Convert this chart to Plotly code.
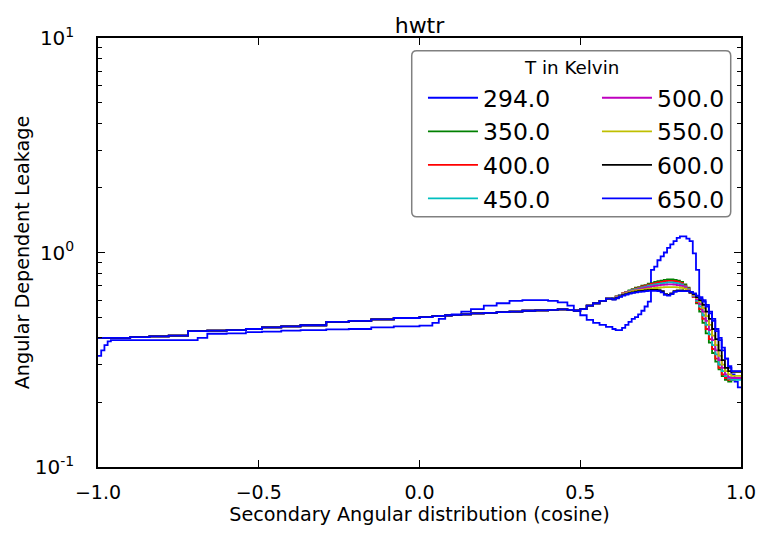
import plotly.graph_objects as go

# ---------------- data ----------------
# left edges of the histogram bins (cosine); last bin closes at X_END
BIN_EDGES = [-1.00, -0.99, -0.98, -0.97, -0.96, -0.90, -0.84, -0.78, -0.72, -0.69,
             -0.66, -0.60, -0.54, -0.49, -0.43, -0.37, -0.29, -0.22, -0.15, -0.08,
             0.00, 0.04, 0.06, 0.08, 0.10, 0.13, 0.16, 0.20, 0.24, 0.28,
             0.32, 0.36, 0.40, 0.43, 0.46, 0.48, 0.50, 0.52, 0.54, 0.56,
             0.58,
             0.60, 0.61, 0.62, 0.63, 0.64, 0.65, 0.66, 0.67, 0.68, 0.69,
             0.70, 0.71, 0.72, 0.73, 0.74, 0.75, 0.76, 0.77, 0.78, 0.79,
             0.80, 0.81, 0.82, 0.83, 0.84, 0.85, 0.86, 0.87, 0.88, 0.89,
             0.90, 0.91, 0.92, 0.93, 0.94, 0.95, 0.96, 0.97, 0.98, 0.99]
X_END = 1.0

TEMPS = ["294.0", "350.0", "400.0", "450.0", "500.0", "550.0", "600.0", "650.0"]
COLORS = ["#0000ff", "#008000", "#ff0000", "#00bfbf", "#bf00bf", "#bfbf00", "#000000", "#0000ff"]
LEGEND_COLUMN = ["legend", "legend", "legend", "legend",
                 "legend2", "legend2", "legend2", "legend2"]

# 294 K (different evaluation) - full curve
T294 = [0.33, 0.35, 0.37, 0.385, 0.39, 0.39, 0.39, 0.39, 0.39, 0.40,
        0.418, 0.42, 0.425, 0.428, 0.432, 0.435, 0.438, 0.44, 0.448, 0.452,
        0.456, 0.47, 0.49, 0.505, 0.515, 0.53, 0.545, 0.565, 0.58, 0.595,
        0.60, 0.60, 0.595, 0.585, 0.565, 0.54, 0.51, 0.485, 0.47, 0.46,
        0.45,
        0.44, 0.435, 0.435, 0.445, 0.46, 0.475, 0.49, 0.50, 0.515, 0.535,
        0.56, 0.59, 0.83, 0.86, 0.92, 0.96, 1.00, 1.05, 1.09, 1.13,
        1.17, 1.19, 1.19, 1.16, 1.13, 0.99, 0.83, 0.62, 0.60, 0.57,
        0.53, 0.49, 0.44, 0.40, 0.36, 0.32, 0.29, 0.27, 0.25, 0.235]

# common part (cosine -1 .. 0.6) of the 350-650 K curves
HOT_LEFT = [0.40, 0.40, 0.40, 0.40, 0.40, 0.403, 0.406, 0.41, 0.43, 0.43,
            0.432, 0.435, 0.44, 0.448, 0.452, 0.458, 0.475, 0.48, 0.488, 0.495,
            0.50, 0.505, 0.507, 0.51, 0.512, 0.515, 0.52, 0.523, 0.527, 0.53,
            0.535, 0.537, 0.54, 0.543, 0.54, 0.535, 0.545, 0.565, 0.58, 0.595,
            0.61]

# forward part (cosine 0.6 .. 1.0) per temperature
T350_RIGHT = [0.615, 0.625, 0.635, 0.645, 0.655, 0.665, 0.675, 0.685, 0.69, 0.70,
              0.705, 0.715, 0.72, 0.73, 0.735, 0.74, 0.745, 0.75, 0.75, 0.745,
              0.74, 0.73, 0.71, 0.685, 0.655, 0.62, 0.58, 0.53, 0.47, 0.42,
              0.38, 0.34, 0.31, 0.285, 0.265, 0.255, 0.25, 0.255, 0.26, 0.26]
T400_RIGHT = [0.615, 0.625, 0.635, 0.645, 0.655, 0.663, 0.672, 0.68, 0.686, 0.695,
              0.70, 0.708, 0.713, 0.72, 0.725, 0.73, 0.735, 0.738, 0.738, 0.735,
              0.73, 0.72, 0.70, 0.68, 0.65, 0.62, 0.585, 0.545, 0.49, 0.44,
              0.395, 0.355, 0.32, 0.29, 0.27, 0.26, 0.255, 0.255, 0.258, 0.258]
T450_RIGHT = [0.612, 0.622, 0.632, 0.642, 0.652, 0.66, 0.668, 0.675, 0.68, 0.688,
              0.693, 0.70, 0.705, 0.71, 0.714, 0.718, 0.722, 0.725, 0.725, 0.722,
              0.718, 0.71, 0.695, 0.675, 0.65, 0.625, 0.595, 0.56, 0.51, 0.46,
              0.415, 0.37, 0.335, 0.30, 0.28, 0.265, 0.258, 0.255, 0.255, 0.255]
T500_RIGHT = [0.61, 0.62, 0.63, 0.64, 0.65, 0.657, 0.664, 0.67, 0.675, 0.68,
              0.685, 0.69, 0.695, 0.70, 0.703, 0.706, 0.709, 0.71, 0.71, 0.708,
              0.705, 0.70, 0.69, 0.67, 0.65, 0.63, 0.605, 0.575, 0.53, 0.48,
              0.435, 0.39, 0.35, 0.315, 0.29, 0.27, 0.262, 0.26, 0.26, 0.26]
T550_RIGHT = [0.608, 0.618, 0.628, 0.637, 0.646, 0.653, 0.66, 0.665, 0.668, 0.672,
              0.675, 0.678, 0.68, 0.683, 0.685, 0.687, 0.69, 0.69, 0.69, 0.69,
              0.688, 0.685, 0.678, 0.665, 0.65, 0.635, 0.615, 0.59, 0.55, 0.505,
              0.46, 0.41, 0.37, 0.33, 0.30, 0.28, 0.27, 0.266, 0.266, 0.266]
T600_RIGHT = [0.605, 0.615, 0.625, 0.633, 0.64, 0.647, 0.652, 0.656, 0.66, 0.663,
              0.665, 0.668, 0.67, 0.67, 0.668, 0.66, 0.64, 0.635, 0.645, 0.66,
              0.665, 0.665, 0.662, 0.66, 0.65, 0.64, 0.62, 0.60, 0.57, 0.53,
              0.49, 0.44, 0.395, 0.35, 0.315, 0.29, 0.28, 0.278, 0.278, 0.278]
T650_RIGHT = [0.603, 0.612, 0.622, 0.63, 0.637, 0.643, 0.648, 0.652, 0.655, 0.657,
              0.66, 0.662, 0.663, 0.663, 0.66, 0.652, 0.635, 0.63, 0.64, 0.655,
              0.66, 0.66, 0.66, 0.66, 0.655, 0.645, 0.63, 0.61, 0.59, 0.56,
              0.52, 0.48, 0.43, 0.39, 0.35, 0.32, 0.295, 0.28, 0.28, 0.28]

SERIES = [T294,
          HOT_LEFT + T350_RIGHT, HOT_LEFT + T400_RIGHT, HOT_LEFT + T450_RIGHT,
          HOT_LEFT + T500_RIGHT, HOT_LEFT + T550_RIGHT, HOT_LEFT + T600_RIGHT,
          HOT_LEFT + T650_RIGHT]

Y_TICKVALS = [0.1, 1, 10]
Y_TICKTEXT = ["10<sup>-1</sup>", "10<sup>0</sup>", "10<sup>1</sup>"]
Y_MINOR = [0.2, 0.3, 0.4, 0.5, 0.6, 0.7, 0.8, 0.9, 2, 3, 4, 5, 6, 7, 8, 9]

# ---------------- figure ----------------
FONT = "DejaVu Sans"
fig = go.Figure()
x_steps = BIN_EDGES + [X_END]
for name, color, vals, leg in zip(TEMPS, COLORS, SERIES, LEGEND_COLUMN):
    assert len(vals) == len(BIN_EDGES)
    fig.add_trace(go.Scatter(
        x=x_steps, y=vals + [vals[-1]], mode="lines", name=name,
        line=dict(color=color, width=1.8, shape="hv"), legend=leg))

# legend frame (rounded, grey) + title, drawn over the curves
x0, x1, y0, y1 = 0.4879, 0.984, 0.5835, 0.9704
rx, ry = 5 / 643, 5 / 429
frame = (f"M{x0+rx},{y1} L{x1-rx},{y1} Q{x1},{y1} {x1},{y1-ry} "
         f"L{x1},{y0+ry} Q{x1},{y0} {x1-rx},{y0} L{x0+rx},{y0} "
         f"Q{x0},{y0} {x0},{y0+ry} L{x0},{y1-ry} Q{x0},{y1} {x0+rx},{y1} Z")
fig.add_shape(type="path", path=frame, xref="paper", yref="paper",
              line=dict(color="#808080", width=1.5), fillcolor="white", layer="above")
fig.add_annotation(text="T in Kelvin", x=(x0 + x1) / 2, y=0.9317, xref="paper", yref="paper",
                   showarrow=False, xanchor="center", yanchor="middle",
                   font=dict(family=FONT, size=18.3, color="black"))

common_legend = dict(orientation="v", yanchor="top", xanchor="left",
                     bgcolor="rgba(0,0,0,0)", borderwidth=0,
                     font=dict(family=FONT, size=23.5, color="black"),
                     itemwidth=50, traceorder="normal")

fig.update_layout(
    width=763, height=534,
    margin=dict(l=98, r=22, t=38, b=67),
    paper_bgcolor="white", plot_bgcolor="white",
    font=dict(family=FONT, color="black", size=19),
    title=dict(text="hwtr", x=0.5, xref="paper", xanchor="center",
               y=1 - 25 / 534, yref="container", yanchor="middle",
               font=dict(size=22)),
    legend=dict(x=0.5054, y=0.9115, **common_legend),
    legend2=dict(x=0.7760, y=0.9115, **common_legend),
    showlegend=True,
)
fig.update_xaxes(
    range=[-1, 1], dtick=0.5, tick0=0, tickformat=".1f", automargin=False,
    ticks="inside", ticklen=7, tickwidth=1, tickcolor="black",
    showline=True, linecolor="black", linewidth=1.5, mirror="ticks",
    showgrid=False, zeroline=False, ticklabelstandoff=7,
    title=dict(text="Secondary Angular distribution (cosine)", font=dict(size=19.2), standoff=6),
    tickfont=dict(size=19),
)
fig.update_yaxes(
    type="log", range=[-1, 1], tickvals=Y_TICKVALS, ticktext=Y_TICKTEXT, automargin=False,
    ticks="inside", ticklen=7, tickwidth=1, tickcolor="black",
    minor=dict(tickmode="array", tickvals=Y_MINOR, ticks="inside", ticklen=4,
               tickcolor="black", showgrid=False),
    showline=True, linecolor="black", linewidth=1.5, mirror="ticks",
    showgrid=False, zeroline=False, ticklabelstandoff=18,
    title=dict(text="Angular Dependent Leakage", font=dict(size=19.2), standoff=0),
    tickfont=dict(size=20),
)

fig.write_html("out.html")
